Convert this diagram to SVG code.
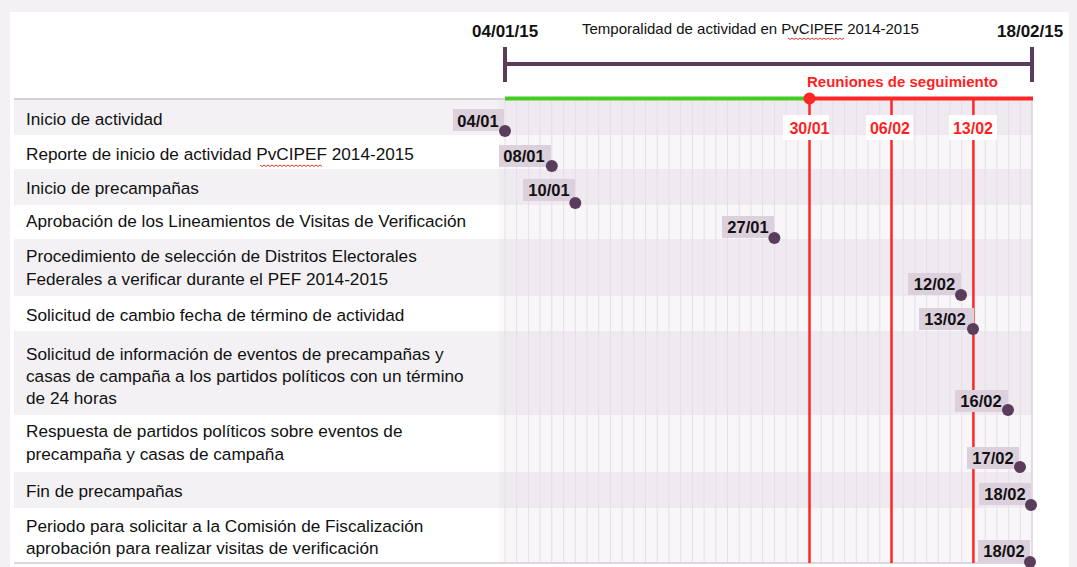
<svg xmlns="http://www.w3.org/2000/svg" width="1077" height="567" viewBox="0 0 1077 567">
<defs>
<style>
.txt{font-family:"Liberation Sans",Arial,sans-serif;font-size:17.2px;fill:#111}
.hd{font-family:"Liberation Sans",Arial,sans-serif;font-size:17px;font-weight:bold;fill:#111}
.ttl{font-family:"Liberation Sans",Arial,sans-serif;font-size:15px;fill:#111}
.red{font-family:"Liberation Sans",Arial,sans-serif;font-weight:bold;fill:#ff1f1f}
.lab{font-family:"Liberation Sans",Arial,sans-serif;font-size:16.5px;font-weight:bold;fill:#111;text-anchor:middle}
.box{fill:#dcd0dc}
.dot{fill:#5a3d5a}
.sh{fill:#f4f1f5}
.gsh{fill:#eeeaef}
.gwh{fill:#f8f6f9}
.gl{stroke:#e6dee6;stroke-width:1}
.rl{stroke:#ff2626;stroke-width:2.5}
.sq{fill:none;stroke:#e8382f;stroke-width:1}
</style>
</defs>
<rect x="0" y="0" width="1077" height="567" fill="#f4f1f5"/>
<rect x="10" y="12" width="1059" height="555" fill="#ffffff"/>
<g id="rows-bg">
<rect class="sh" x="14" y="100" width="491" height="35"/>
<rect class="sh" x="14" y="169" width="491" height="36"/>
<rect class="sh" x="14" y="239" width="491" height="57"/>
<rect class="sh" x="14" y="331" width="491" height="84"/>
<rect class="sh" x="14" y="472" width="491" height="36"/>
<rect x="499" y="100" width="6" height="463" fill="#000" opacity="0.02"/>
</g>
<g id="grid">
<rect class="gwh" x="505" y="100" width="527" height="463"/>
<rect class="gsh" x="505" y="100" width="527" height="35"/>
<rect class="gsh" x="505" y="169" width="527" height="36"/>
<rect class="gsh" x="505" y="239" width="527" height="57"/>
<rect class="gsh" x="505" y="331" width="527" height="84"/>
<rect class="gsh" x="505" y="472" width="527" height="36"/>
<g class="gl">
<line x1="505" y1="100" x2="505" y2="563"/><line x1="516.7" y1="100" x2="516.7" y2="563"/><line x1="528.4" y1="100" x2="528.4" y2="563"/><line x1="540.1" y1="100" x2="540.1" y2="563"/><line x1="551.8" y1="100" x2="551.8" y2="563"/><line x1="563.6" y1="100" x2="563.6" y2="563"/><line x1="575.3" y1="100" x2="575.3" y2="563"/><line x1="587" y1="100" x2="587" y2="563"/><line x1="598.7" y1="100" x2="598.7" y2="563"/><line x1="610.4" y1="100" x2="610.4" y2="563"/><line x1="622.1" y1="100" x2="622.1" y2="563"/><line x1="633.8" y1="100" x2="633.8" y2="563"/><line x1="645.5" y1="100" x2="645.5" y2="563"/><line x1="657.2" y1="100" x2="657.2" y2="563"/><line x1="669" y1="100" x2="669" y2="563"/><line x1="680.7" y1="100" x2="680.7" y2="563"/><line x1="692.4" y1="100" x2="692.4" y2="563"/><line x1="704.1" y1="100" x2="704.1" y2="563"/><line x1="715.8" y1="100" x2="715.8" y2="563"/><line x1="727.5" y1="100" x2="727.5" y2="563"/><line x1="739.2" y1="100" x2="739.2" y2="563"/><line x1="750.9" y1="100" x2="750.9" y2="563"/><line x1="762.6" y1="100" x2="762.6" y2="563"/><line x1="774.4" y1="100" x2="774.4" y2="563"/><line x1="786.1" y1="100" x2="786.1" y2="563"/><line x1="797.8" y1="100" x2="797.8" y2="563"/><line x1="809.5" y1="100" x2="809.5" y2="563"/><line x1="821.2" y1="100" x2="821.2" y2="563"/><line x1="832.9" y1="100" x2="832.9" y2="563"/><line x1="844.6" y1="100" x2="844.6" y2="563"/><line x1="856.3" y1="100" x2="856.3" y2="563"/><line x1="868" y1="100" x2="868" y2="563"/><line x1="879.8" y1="100" x2="879.8" y2="563"/><line x1="891.5" y1="100" x2="891.5" y2="563"/><line x1="903.2" y1="100" x2="903.2" y2="563"/><line x1="914.9" y1="100" x2="914.9" y2="563"/><line x1="926.6" y1="100" x2="926.6" y2="563"/><line x1="938.3" y1="100" x2="938.3" y2="563"/><line x1="950" y1="100" x2="950" y2="563"/><line x1="961.7" y1="100" x2="961.7" y2="563"/><line x1="973.4" y1="100" x2="973.4" y2="563"/><line x1="985.2" y1="100" x2="985.2" y2="563"/><line x1="996.9" y1="100" x2="996.9" y2="563"/><line x1="1008.6" y1="100" x2="1008.6" y2="563"/><line x1="1020.3" y1="100" x2="1020.3" y2="563"/><line x1="1032" y1="100" x2="1032" y2="563" stroke="#dcd2dc" stroke-width="1.5"/>
</g>
<line x1="14" y1="99" x2="505" y2="99" stroke="#cdbfcd" stroke-width="1.5"/>
<line x1="14" y1="563" x2="1032" y2="563" stroke="#d6c9d6" stroke-width="1.5"/>
</g>
<g id="header">
<text class="hd" x="472" y="37">04/01/15</text>
<text class="hd" x="997" y="37">18/02/15</text>
<text class="ttl" x="582" y="34">Temporalidad de actividad en PvCIPEF 2014-2015</text>
<path class="sq" d="M788 38 l2 1.5 l2 -1.5 l2 1.5 l2 -1.5 l2 1.5 l2 -1.5 l2 1.5 l2 -1.5 l2 1.5 l2 -1.5 l2 1.5 l2 -1.5 l2 1.5 l2 -1.5 l2 1.5 l2 -1.5 l2 1.5 l2 -1.5 l2 1.5 l2 -1.5 l2 1.5 l2 -1.5 l2 1.5 l2 -1.5 l2 1.5 l2 -1.5 l2 1.5 l2 -1.5"/>
<text class="red" x="807" y="87" font-size="15">Reuniones de seguimiento</text>
</g>
<g id="connectors">
<line x1="505" y1="64" x2="1032" y2="64" stroke="#5a3d5a" stroke-width="4"/>
<line x1="505" y1="47" x2="505" y2="82" stroke="#5a3d5a" stroke-width="4"/>
<line x1="1032" y1="47" x2="1032" y2="82" stroke="#5a3d5a" stroke-width="4"/>
<line x1="505" y1="98.5" x2="809.5" y2="98.5" stroke="#44cc22" stroke-width="4"/>
<line x1="809.5" y1="98.5" x2="1033" y2="98.5" stroke="#ff2626" stroke-width="4"/>
<line class="rl" x1="809.5" y1="98" x2="809.5" y2="563"/>
<line class="rl" x1="891.5" y1="98" x2="891.5" y2="563"/>
<line class="rl" x1="973.4" y1="98" x2="973.4" y2="563"/>
<circle cx="809.5" cy="98.5" r="6" fill="#ff2626"/>
</g>
<g id="meeting-30-01"><rect x="783" y="115" width="46" height="25" fill="#fff"/><text class="red" x="809.5" y="134" font-size="16" text-anchor="middle">30/01</text></g>
<g id="meeting-06-02"><rect x="866" y="115" width="47" height="25" fill="#fff"/><text class="red" x="890" y="134" font-size="16" text-anchor="middle">06/02</text></g>
<g id="meeting-13-02"><rect x="949" y="115" width="48" height="25" fill="#fff"/><text class="red" x="973" y="134" font-size="16" text-anchor="middle">13/02</text></g>
<g id="task-1">
<text class="txt" x="26" y="125">Inicio de actividad</text>
<rect class="box" x="453" y="109" width="51" height="22"/><text class="lab" x="478" y="127">04/01</text>
<circle class="dot" cx="505" cy="131" r="6"/>
</g>
<g id="task-2">
<text class="txt" x="26" y="160">Reporte de inicio de actividad PvCIPEF 2014-2015</text>
<path class="sq" d="M260 165 l2 1.5 l2 -1.5 l2 1.5 l2 -1.5 l2 1.5 l2 -1.5 l2 1.5 l2 -1.5 l2 1.5 l2 -1.5 l2 1.5 l2 -1.5 l2 1.5 l2 -1.5 l2 1.5 l2 -1.5 l2 1.5 l2 -1.5 l2 1.5 l2 -1.5 l2 1.5 l2 -1.5 l2 1.5 l2 -1.5 l2 1.5 l2 -1.5 l2 1.5 l2 -1.5 l2 1.5 l2 -1.5 l2 1.5"/>
<rect class="box" x="499" y="145" width="52" height="22"/><text class="lab" x="524" y="162">08/01</text>
<circle class="dot" cx="551.8" cy="166" r="6"/>
</g>
<g id="task-3">
<text class="txt" x="26" y="194">Inicio de precampañas</text>
<rect class="box" x="523" y="179" width="52" height="22"/><text class="lab" x="549" y="196">10/01</text>
<circle class="dot" cx="575.3" cy="203" r="6"/>
</g>
<g id="task-4">
<text class="txt" x="26" y="227">Aprobación de los Lineamientos de Visitas de Verificación</text>
<rect class="box" x="722" y="216" width="52" height="22"/><text class="lab" x="748" y="233">27/01</text>
<circle class="dot" cx="774.4" cy="238" r="6"/>
</g>
<g id="task-5">
<text class="txt" x="26" y="262">Procedimiento de selección de Distritos Electorales</text>
<text class="txt" x="26" y="285">Federales a verificar durante el PEF 2014-2015</text>
<rect class="box" x="908" y="273" width="53" height="22"/><text class="lab" x="934.5" y="290">12/02</text>
<circle class="dot" cx="961" cy="295" r="6"/>
</g>
<g id="task-6">
<text class="txt" x="26" y="321">Solicitud de cambio fecha de término de actividad</text>
<rect class="box" x="919" y="308" width="55" height="22"/><text class="lab" x="945" y="325">13/02</text>
<circle class="dot" cx="973" cy="329" r="6"/>
</g>
<g id="task-7">
<text class="txt" x="26" y="360">Solicitud de información de eventos de precampañas y</text>
<text class="txt" x="26" y="382">casas de campaña a los partidos políticos con un término</text>
<text class="txt" x="26" y="404">de 24 horas</text>
<rect class="box" x="955" y="390" width="53" height="22"/><text class="lab" x="981" y="407">16/02</text>
<circle class="dot" cx="1008" cy="410" r="6"/>
</g>
<g id="task-8">
<text class="txt" x="26" y="437">Respuesta de partidos políticos sobre eventos de</text>
<text class="txt" x="26" y="460">precampaña y casas de campaña</text>
<rect class="box" x="967" y="447" width="52" height="22"/><text class="lab" x="993" y="464">17/02</text>
<circle class="dot" cx="1020" cy="467" r="6"/>
</g>
<g id="task-9">
<text class="txt" x="26" y="497">Fin de precampañas</text>
<rect class="box" x="979" y="483" width="52" height="22"/><text class="lab" x="1005" y="500">18/02</text>
<circle class="dot" cx="1031" cy="505" r="6"/>
</g>
<g id="task-10">
<text class="txt" x="26" y="532">Periodo para solicitar a la Comisión de Fiscalización</text>
<text class="txt" x="26" y="554">aprobación para realizar visitas de verificación</text>
<rect class="box" x="978" y="540" width="52" height="22"/><text class="lab" x="1004" y="557">18/02</text>
<circle class="dot" cx="1030" cy="562" r="6"/>
</g>
</svg>
